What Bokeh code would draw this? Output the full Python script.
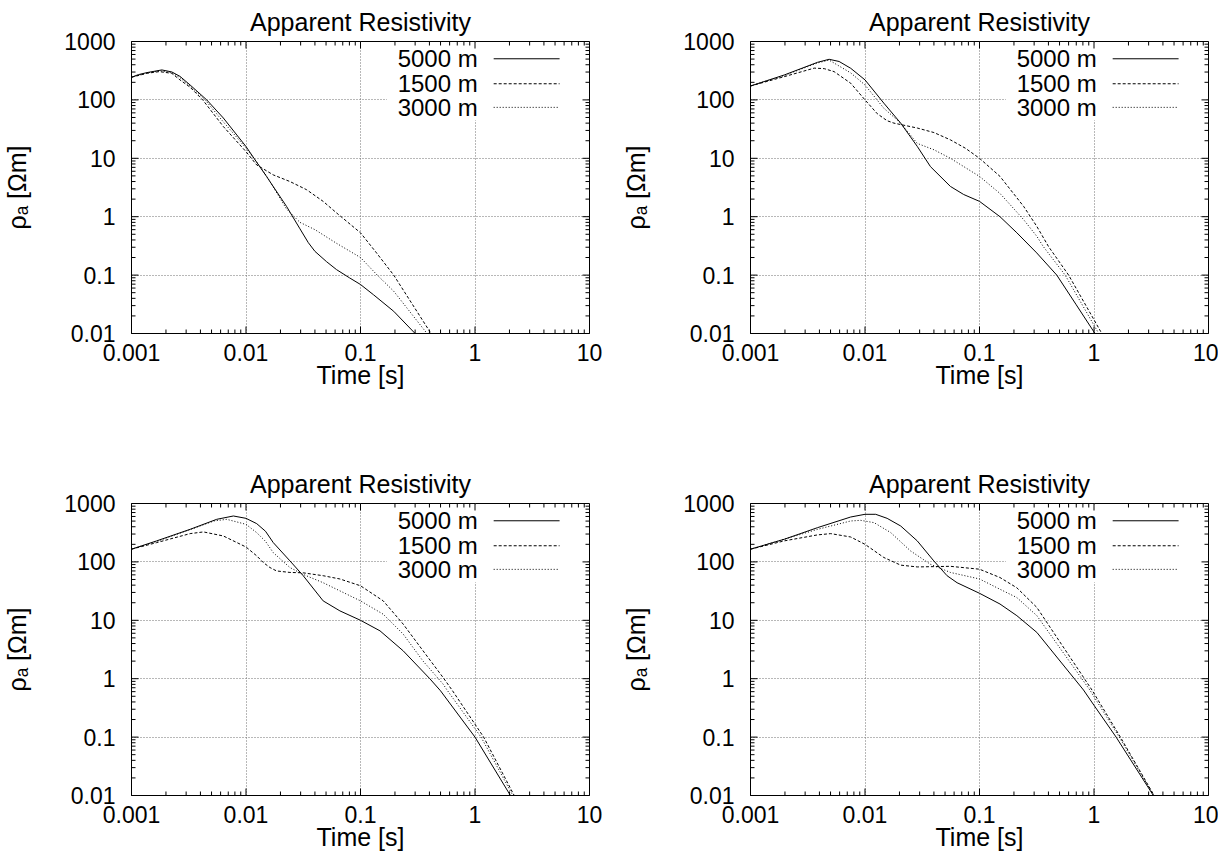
from bokeh.plotting import figure
from bokeh.layouts import column, row
from bokeh.models import Label, BoxAnnotation, CustomJSTickFormatter, Range1d
from bokeh.embed import file_html
from bokeh.resources import INLINE

FONT = "Liberation Sans"

series_labels = ["5000 m", "1500 m", "3000 m"]
series_dash = ["solid", "3 2", "1 2"]

title_text = "Apparent Resistivity"
x_label = "Time [s]"
y_label = "\u03c1\u2090 [\u03a9m]"

x_major = [0.001, 0.01, 0.1, 1, 10]
y_major = [0.01, 0.1, 1, 10, 100, 1000]
x_minor = [m * d for d in x_major[:-1] for m in range(2, 10)]
y_minor = [m * d for d in y_major[:-1] for m in range(2, 10)]

# ---- panel A (top-left)
a_t_5000 = [0.001, 0.00115, 0.00136, 0.00184, 0.00225, 0.00265, 0.00325, 0.00454, 0.00634, 0.01, 0.012, 0.0151, 0.0226, 0.0296, 0.035, 0.040, 0.0505, 0.0618, 0.08, 0.1, 0.13, 0.195, 0.30]
a_r_5000 = [244, 271, 293, 326, 301, 253, 180, 100, 49, 15.9, 9.4, 4.9, 1.5, 0.62, 0.36, 0.255, 0.17, 0.124, 0.09, 0.069, 0.046, 0.024, 0.01]
a_t_1500 = [0.001, 0.00136, 0.00175, 0.00225, 0.00265, 0.00325, 0.00419, 0.00634, 0.01, 0.0124, 0.0173, 0.0242, 0.0338, 0.0472, 0.0618, 0.1, 0.138, 0.195, 0.413]
a_r_1500 = [244, 285, 305, 285, 220, 165, 100, 35, 13, 7.7, 5.2, 4.0, 2.9, 1.83, 1.16, 0.53, 0.24, 0.1, 0.01]
a_t_3000 = [0.001, 0.00136, 0.0018, 0.00225, 0.00265, 0.00325, 0.0044, 0.00634, 0.01, 0.012, 0.0151, 0.0226, 0.0296, 0.040, 0.0618, 0.1, 0.14, 0.195, 0.381]
a_r_3000 = [244, 290, 315, 292, 240, 172, 100, 42, 15, 9.4, 5.0, 1.35, 0.8, 0.6, 0.35, 0.2, 0.1, 0.053, 0.01]

# ---- panel B (top-right)
b_t_5000 = [0.001, 0.00197, 0.00385, 0.00486, 0.00594, 0.0075, 0.01, 0.0146, 0.0205, 0.0286, 0.0373, 0.0557, 0.0727, 0.1, 0.151, 0.212, 0.316, 0.473, 0.7, 1.02]
b_r_5000 = [173, 267, 440, 496, 455, 348, 220, 88, 40, 16, 7.2, 3.3, 2.4, 1.83, 1.0, 0.53, 0.24, 0.1, 0.031, 0.01]
b_t_1500 = [0.001, 0.00197, 0.0036, 0.0044, 0.00537, 0.0075, 0.01, 0.0128, 0.0156, 0.0179, 0.0286, 0.04, 0.0557, 0.0752, 0.1, 0.151, 0.243, 0.317, 0.40, 0.6, 1.17]
b_r_1500 = [173, 250, 350, 343, 305, 193, 100, 58, 44, 40, 33, 27.6, 20.7, 14.9, 10, 4.9, 1.5, 0.68, 0.31, 0.1, 0.01]
b_t_3000 = [0.001, 0.00197, 0.00385, 0.00486, 0.0075, 0.01, 0.0146, 0.0205, 0.0286, 0.04, 0.0557, 0.1, 0.151, 0.243, 0.317, 0.36, 0.56, 1.1]
b_r_3000 = [173, 262, 430, 480, 290, 180, 72, 40, 18, 14, 10, 4.9, 2.5, 0.89, 0.46, 0.31, 0.1, 0.01]

# ---- panel C (bottom-left)
c_t_5000 = [0.001, 0.00166, 0.00325, 0.00555, 0.00776, 0.01, 0.0124, 0.0148, 0.0173, 0.0242, 0.0316, 0.0472, 0.0661, 0.1, 0.148, 0.236, 0.403, 0.5, 1.0, 2.04]
c_r_5000 = [165, 229, 361, 536, 611, 557, 452, 335, 214, 104, 58, 21.5, 14.5, 10, 6.6, 3.0, 1.0, 0.62, 0.1, 0.01]
c_t_1500 = [0.001, 0.00166, 0.00325, 0.00425, 0.00634, 0.01, 0.0124, 0.0142, 0.0162, 0.0185, 0.0242, 0.0316, 0.0472, 0.0661, 0.1, 0.158, 0.236, 0.352, 0.526, 0.63, 1.19, 2.2]
c_r_1500 = [165, 214, 305, 326, 278, 180, 127, 97, 80, 70, 66, 65, 58, 51, 39, 21.5, 8.6, 3.0, 1.05, 0.64, 0.1, 0.01]
c_t_3000 = [0.001, 0.00166, 0.00325, 0.00525, 0.00678, 0.01, 0.0124, 0.0148, 0.0173, 0.0242, 0.0316, 0.0472, 0.1, 0.158, 0.236, 0.352, 0.526, 0.57, 1.13, 2.14]
c_r_3000 = [165, 225, 357, 502, 536, 440, 317, 225, 144, 80, 61, 44, 21.5, 12.7, 5.8, 2.0, 0.81, 0.64, 0.1, 0.01]

# ---- panel D (bottom-right)
d_t_5000 = [0.001, 0.00197, 0.00385, 0.0075, 0.01, 0.0124, 0.0156, 0.0205, 0.0286, 0.0399, 0.0521, 0.0637, 0.1, 0.151, 0.212, 0.317, 0.81, 1.0, 1.56, 3.3]
d_r_5000 = [165, 244, 386, 587, 653, 653, 557, 412, 229, 104, 58, 44, 29, 19, 12, 6.2, 0.64, 0.35, 0.1, 0.01]
d_t_1500 = [0.001, 0.00197, 0.00385, 0.00502, 0.0075, 0.01, 0.0146, 0.0205, 0.0286, 0.0557, 0.1, 0.151, 0.212, 0.317, 0.96, 1.7, 3.35]
d_r_1500 = [165, 229, 290, 305, 267, 200, 119, 88, 82, 84, 75, 54, 36, 16.6, 0.64, 0.1, 0.01]
d_t_3000 = [0.001, 0.00385, 0.0075, 0.00916, 0.012, 0.0168, 0.025, 0.0373, 0.0557, 0.1, 0.151, 0.212, 0.317, 0.92, 1.66, 3.33]
d_r_3000 = [165, 361, 502, 515, 470, 317, 154, 91, 66, 51, 34, 24.5, 12, 0.64, 0.1, 0.01]

# key placement (data coordinates)
LEG_TEXT_X = 1.056
LEG_LINE_X = (1.456, 5.48)
LEG_ROW_Y = [506, 189, 74.5]
KEY_BOX = dict(left=0.17, right=9.6, bottom=45, top=950)

FRAME_W, FRAME_H = 458, 292
PX_PER_DECADE_X = FRAME_W / 4.0
PX_PER_DECADE_Y = FRAME_H / 5.0
TICK_MAJOR, TICK_MINOR = 7, 4

fmt_code = "return Number(tick.toPrecision(6)).toString();"


def style_axis(ax, tick_fs, label_fs):
    ax.axis_line_color = "black"
    ax.axis_line_width = 1
    ax.major_tick_in = 0
    ax.major_tick_out = 0
    ax.minor_tick_in = 0
    ax.minor_tick_out = 0
    ax.major_label_text_font = FONT
    ax.major_label_text_color = "black"
    ax.major_label_text_font_size = tick_fs
    ax.formatter = CustomJSTickFormatter(code=fmt_code)
    ax.axis_label_text_font = FONT
    ax.axis_label_text_font_size = label_fs
    ax.axis_label_text_font_style = "normal"
    ax.axis_label_text_color = "black"


def add_ticks(p):
    # inward tick marks on all four sides (gnuplot style mirror tics)
    y_lo, y_hi = y_major[0], y_major[-1]
    x_lo, x_hi = x_major[0], x_major[-1]
    for xs, L in ((x_major, TICK_MAJOR), (x_minor, TICK_MINOR)):
        f = 10 ** (L / PX_PER_DECADE_Y)
        n = len(xs)
        p.segment(x0=xs, y0=[y_lo] * n, x1=xs, y1=[y_lo * f] * n, line_color="black", line_width=1)
        p.segment(x0=xs, y0=[y_hi] * n, x1=xs, y1=[y_hi / f] * n, line_color="black", line_width=1)
    for ys, L in ((y_major, TICK_MAJOR), (y_minor, TICK_MINOR)):
        f = 10 ** (L / PX_PER_DECADE_X)
        n = len(ys)
        p.segment(x0=[x_lo] * n, y0=ys, x1=[x_lo * f] * n, y1=ys, line_color="black", line_width=1)
        p.segment(x0=[x_hi] * n, y0=ys, x1=[x_hi / f] * n, y1=ys, line_color="black", line_width=1)


def make_panel(series, border_right, border_bottom):
    p = figure(x_axis_type="log", y_axis_type="log",
               x_range=Range1d(x_major[0], x_major[-1]), y_range=Range1d(y_major[0], y_major[-1]),
               frame_width=FRAME_W, frame_height=FRAME_H,
               min_border_left=129, min_border_right=border_right,
               min_border_top=37, min_border_bottom=border_bottom,
               output_backend="svg", toolbar_location=None,
               title=title_text)
    p.background_fill_color = "white"
    p.border_fill_color = "white"
    p.outline_line_color = "black"
    p.title.text_font = FONT
    p.title.text_font_size = "25px"
    p.title.text_font_style = "normal"
    p.title.text_color = "black"
    p.title.align = "center"
    p.title.standoff = 11

    style_axis(p.xaxis[0], "23px", "25px")
    style_axis(p.yaxis[0], "23px", "25px")
    p.xaxis[0].axis_label = x_label
    p.yaxis[0].axis_label = y_label
    p.xaxis[0].major_label_standoff = 10
    p.xaxis[0].axis_label_standoff = -3
    p.yaxis[0].major_label_standoff = 16
    p.yaxis[0].axis_label_standoff = 30

    for g in (p.xgrid[0], p.ygrid[0]):
        g.grid_line_color = "#707070"
        g.grid_line_dash = "1 2"
        g.grid_line_width = 1

    # opaque key area
    p.add_layout(BoxAnnotation(fill_color="white", fill_alpha=1.0, line_alpha=0,
                               level="underlay", **KEY_BOX))

    add_ticks(p)

    for (t, r), lab, dash, ly in zip(series, series_labels, series_dash, LEG_ROW_Y):
        p.line(t, r, line_color="black", line_width=1, line_dash=dash)
        p.line(list(LEG_LINE_X), [ly, ly], line_color="black", line_width=1, line_dash=dash)
        p.add_layout(Label(x=LEG_TEXT_X, y=ly, text=lab, text_align="right",
                           text_baseline="middle", text_font=FONT,
                           text_font_size="24px", text_color="black"))
    return p


p1 = make_panel([(a_t_5000, a_r_5000), (a_t_1500, a_r_1500), (a_t_3000, a_r_3000)], 30, 129)
p2 = make_panel([(b_t_5000, b_r_5000), (b_t_1500, b_r_1500), (b_t_3000, b_r_3000)], 10, 129)
p3 = make_panel([(c_t_5000, c_r_5000), (c_t_1500, c_r_1500), (c_t_3000, c_r_3000)], 30, 50)
p4 = make_panel([(d_t_5000, d_r_5000), (d_t_1500, d_r_1500), (d_t_3000, d_r_3000)], 10, 50)

layout = column(row(p1, p2), row(p3, p4))
open("out.html", "w").write(file_html(layout, INLINE))
